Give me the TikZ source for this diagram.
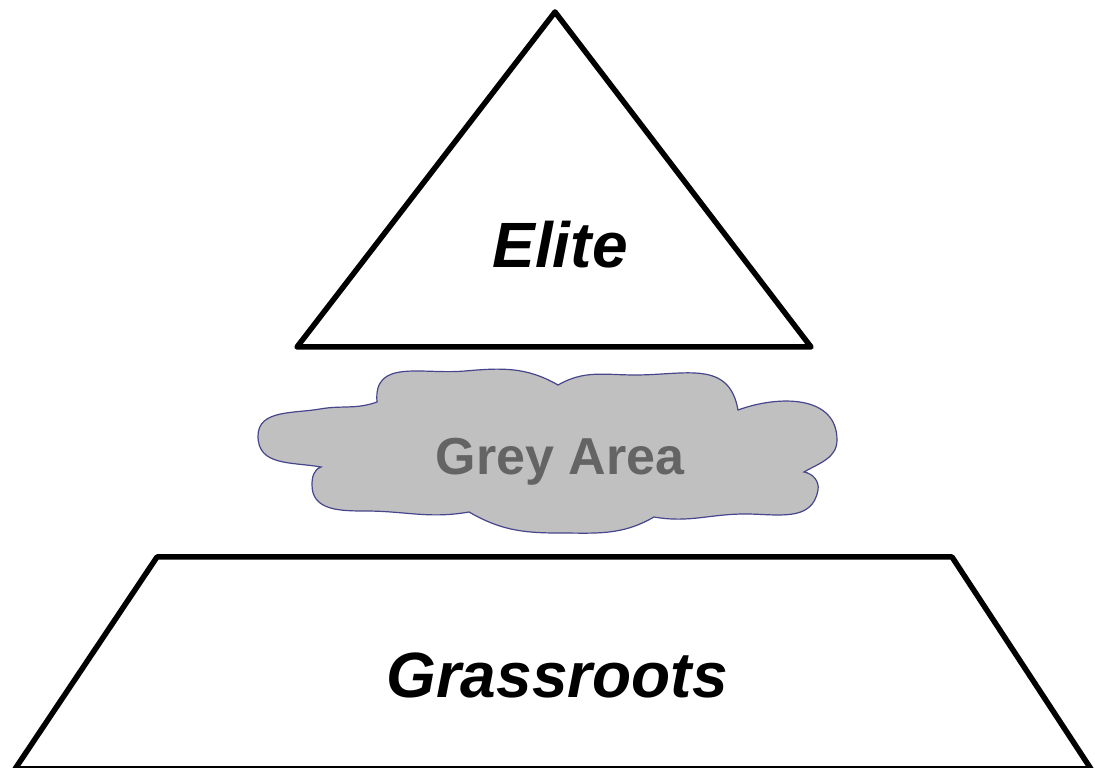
\documentclass[tikz,border=0pt]{standalone}
\usepackage{fontspec}
\setmainfont{Liberation Sans}
\usepackage{xcolor}
\usepackage{tikz}
\usetikzlibrary{positioning}

\definecolor{cloudfill}{RGB}{192,192,192}
\definecolor{cloudline}{RGB}{70,70,140}
\definecolor{greytext}{RGB}{100,100,100}

\begin{document}
\begin{tikzpicture}[
    x=1pt, y=1pt,
    level/.style={draw=black, line width=5.5pt, line join=round},
    cloudy/.style={fill=cloudfill, draw=cloudline, line width=1.2pt},
    tier/.style={anchor=base, inner sep=0pt, font=\fontsize{64}{70}\selectfont\bfseries\itshape},
    greylabel/.style={anchor=base, inner sep=0pt, text=greytext, font=\fontsize{52}{60}\selectfont\bfseries}
]
\useasboundingbox (0,0) rectangle (1095,768);

% top of the pyramid
\coordinate (apex) at (555,756);
\coordinate (eliteL) at (297,421);
\coordinate (eliteR) at (811,421);
\draw[level] (apex) -- (eliteL) -- (eliteR) -- cycle;
\node[tier] (elite) at (560,500) {Elite};

% cloud in between
\draw[cloudy] (377,366) to[out=95,in=185,looseness=1.2] (465,397)
    to[out=5,in=150] (558,383)
    to[out=30,in=180] (635,393)
    to[out=0,in=100,looseness=1.2] (738,358)
    to[out=20,in=90,looseness=1.1] (837,328)
    to[out=-90,in=30] (804,296)
    to[out=-10,in=80] (818,278)
    to[out=-100,in=0,looseness=1.1] (745,254)
    to[out=180,in=-10] (654,251)
    to[out=-150,in=0] (558,235)
    to[out=180,in=-30] (469,256)
    to[out=-170,in=0] (365,257)
    to[out=180,in=-90,looseness=1.1] (312,283)
    to[out=90,in=-160] (321,301)
    to[out=170,in=-90,looseness=1.1] (258,332)
    to[out=90,in=190] (320,359)
    to[out=10,in=-160] cycle;
\node[greylabel] (grey) at (560,293) {Grey Area};

% base of the pyramid
\coordinate (baseTL) at (157,211);
\coordinate (baseTR) at (952,211);
\coordinate (baseBR) at (1091,-1);
\coordinate (baseBL) at (15,-1);
\draw[level] (baseBL) -- (baseTL) -- (baseTR) -- (baseBR) -- cycle;
\node[tier] (grassroots) at (557,70) {Grassroots};
\end{tikzpicture}
\end{document}
